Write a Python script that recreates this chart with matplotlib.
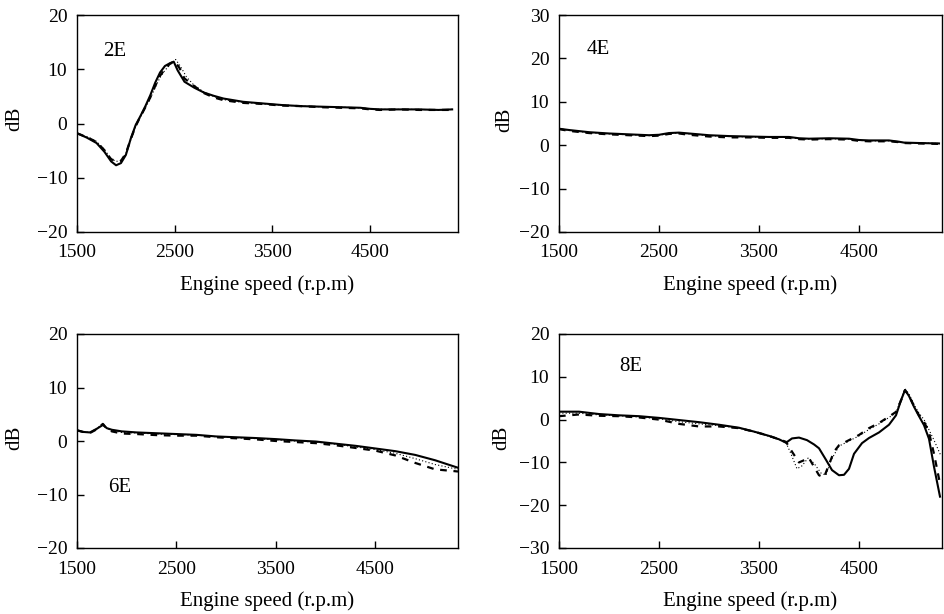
import matplotlib
matplotlib.use("Agg")
import matplotlib.pyplot as plt

plt.rcParams['font.family'] = ['Liberation Serif', 'DejaVu Serif']
plt.rcParams['axes.unicode_minus'] = True

# ---------------- data ----------------
# 2E
x2_solid = [1500, 1600, 1700, 1780, 1850, 1900, 1950, 2000, 2050, 2100, 2150, 2200, 2250, 2300, 2350, 2400,
            2450, 2490, 2530, 2600, 2700, 2800, 2900, 3000, 3200, 3400, 3600, 3800, 4000, 4200, 4400, 4500,
            4600, 4800, 5000, 5200, 5340]
y2_solid = [-1.8, -2.6, -3.6, -5.2, -7.0, -7.7, -7.3, -5.8, -2.8, -0.3, 1.4, 3.2, 5.2, 7.5, 9.4, 10.6,
            11.1, 11.4, 9.8, 7.7, 6.6, 5.7, 5.1, 4.6, 4.0, 3.7, 3.4, 3.2, 3.1, 3.0, 2.9, 2.7,
            2.6, 2.6, 2.6, 2.5, 2.6]
x2_dash = [1500, 1600, 1700, 1780, 1850, 1900, 1950, 2000, 2050, 2100, 2150, 2200, 2250, 2300, 2350, 2400,
           2450, 2500, 2550, 2600, 2700, 2800, 2900, 3000, 3200, 3400, 3600, 3800, 4000, 4200, 4400, 4500,
           4600, 4800, 5000, 5200, 5340]
y2_dash = [-1.8, -2.5, -3.4, -4.9, -6.6, -6.9, -6.9, -5.5, -2.9, -0.5, 1.3, 3.0, 4.8, 6.9, 8.8, 10.0,
           11.0, 11.5, 10.2, 8.3, 6.9, 5.6, 4.8, 4.3, 3.8, 3.6, 3.3, 3.2, 3.0, 2.9, 2.8, 2.6,
           2.5, 2.6, 2.5, 2.5, 2.5]
x2_dot = [1500, 1600, 1700, 1780, 1850, 1900, 1950, 2000, 2050, 2100, 2150, 2200, 2250, 2300, 2350, 2400,
          2450, 2510, 2560, 2620, 2700, 2800, 2900, 3000, 3200, 3400, 3600, 3800, 4000, 4200, 4400, 4500,
          4600, 4800, 5000, 5200, 5340]
y2_dot = [-1.8, -2.4, -3.3, -4.8, -6.5, -7.0, -6.8, -5.6, -3.0, -0.6, 1.2, 2.9, 4.6, 6.6, 8.5, 9.8,
          10.8, 11.8, 10.5, 8.6, 7.0, 5.8, 5.0, 4.4, 3.9, 3.6, 3.4, 3.2, 3.1, 3.0, 2.9, 2.7,
          2.6, 2.6, 2.6, 2.5, 2.6]

# 4E
x4 = [1500, 1600, 1800, 2000, 2200, 2400, 2500, 2600, 2700, 2800, 3000, 3200, 3400, 3600, 3800, 3900,
      4000, 4200, 4400, 4500, 4600, 4800, 4900, 4950, 5100, 5300]
y4_solid = [3.8, 3.5, 3.0, 2.7, 2.5, 2.3, 2.4, 2.8, 2.9, 2.7, 2.3, 2.1, 2.0, 1.9, 1.9, 1.6,
            1.5, 1.6, 1.5, 1.2, 1.1, 1.1, 0.8, 0.6, 0.5, 0.4]
y4_dash = [3.7, 3.3, 2.8, 2.5, 2.3, 2.1, 2.2, 2.6, 2.7, 2.4, 2.0, 1.8, 1.8, 1.7, 1.7, 1.4,
           1.3, 1.4, 1.3, 1.0, 0.9, 0.9, 0.7, 0.5, 0.4, 0.3]
y4_dot = [3.8, 3.4, 2.9, 2.6, 2.4, 2.2, 2.3, 2.7, 2.8, 2.6, 2.2, 2.0, 1.9, 1.8, 1.8, 1.5,
          1.4, 1.5, 1.4, 1.1, 1.0, 1.0, 0.7, 0.6, 0.5, 0.4]

# 6E
x6 = [1500, 1560, 1630, 1700, 1760, 1800, 1850, 1950, 2100, 2300, 2500, 2700, 2900, 3100, 3300, 3500,
      3700, 3900, 4100, 4300, 4500, 4700, 4900, 5100, 5330]
y6_solid = [2.0, 1.7, 1.6, 2.3, 3.0, 2.4, 2.1, 1.8, 1.6, 1.45, 1.3, 1.15, 0.85, 0.7, 0.55, 0.35,
            0.1, -0.1, -0.5, -0.9, -1.4, -1.9, -2.6, -3.6, -5.0]
y6_dash = [2.0, 1.7, 1.5, 2.2, 3.2, 2.3, 1.8, 1.4, 1.3, 1.1, 1.0, 1.0, 0.7, 0.5, 0.3, 0.0,
           -0.2, -0.4, -0.8, -1.3, -1.8, -2.7, -4.1, -5.3, -5.7]
y6_dot = [2.0, 1.7, 1.6, 2.3, 3.3, 2.4, 2.0, 1.6, 1.5, 1.3, 1.2, 1.1, 0.8, 0.6, 0.45, 0.2,
          0.0, -0.2, -0.6, -1.1, -1.6, -2.3, -3.3, -4.4, -5.3]

# 8E
x8_solid = [1500, 1700, 1900, 2100, 2300, 2500, 2700, 2900, 3100, 3300, 3450, 3600, 3700, 3770, 3830,
            3900, 3980, 4050, 4100, 4170, 4230, 4300, 4350, 4400, 4450, 4530, 4600, 4700, 4800, 4870,
            4920, 4960, 5000, 5050, 5100, 5150, 5200, 5250, 5310]
y8_solid = [1.85, 1.85, 1.3, 1.0, 0.8, 0.4, -0.1, -0.6, -1.2, -1.9, -2.8, -3.8, -4.6, -5.4, -4.4,
            -4.2, -4.8, -5.8, -6.7, -9.4, -11.8, -13.0, -12.9, -11.5, -8.0, -5.5, -4.3, -3.0, -1.2, 1.0,
            4.5, 6.9, 5.5, 3.0, 0.8, -1.3, -4.5, -11.0, -18.0]
x8_dash = [1500, 1700, 1900, 2100, 2300, 2500, 2700, 2900, 3100, 3300, 3450, 3600, 3700, 3770, 3830,
           3900, 3950, 4000, 4050, 4100, 4150, 4200, 4250, 4300, 4400, 4500, 4600, 4700, 4800, 4870,
           4930, 4960, 5000, 5050, 5100, 5150, 5200, 5250, 5310]
y8_dash = [0.8, 1.2, 0.9, 0.8, 0.5, 0.0, -1.0, -1.6, -1.6, -2.0, -2.8, -3.8, -4.6, -5.2, -7.5,
           -10.0, -9.5, -9.0, -11.0, -13.0, -13.5, -10.5, -7.5, -6.0, -4.8, -3.6, -2.0, -0.8, 0.7, 1.8,
           5.0, 6.9, 5.6, 3.2, 1.0, -0.5, -3.0, -8.0, -15.0]
x8_dot = [1500, 1700, 1900, 2100, 2300, 2500, 2700, 2900, 3100, 3300, 3450, 3600, 3700, 3770, 3820,
          3880, 3930, 3990, 4050, 4120, 4170, 4220, 4300, 4400, 4500, 4600, 4700, 4800, 4870,
          4920, 4960, 5000, 5050, 5100, 5150, 5200, 5250, 5320]
y8_dot = [1.5, 1.5, 1.1, 0.9, 0.6, 0.2, -0.5, -1.0, -1.4, -2.0, -2.9, -3.9, -4.7, -5.4, -8.0,
          -11.5, -10.8, -9.0, -10.2, -12.5, -13.0, -9.5, -6.2, -5.0, -3.8, -2.3, -1.0, 0.5, 1.6,
          4.8, 7.2, 6.0, 3.5, 1.5, 0.0, -2.4, -4.8, -8.5]

panels = [
    dict(label="2E", lx=0.068, ly=0.83, xlim=(1500, 5400), ylim=(-20, 20), yticks=[-20, -10, 0, 10, 20],
         solid=(x2_solid, y2_solid), dash=(x2_dash, y2_dash), dot=(x2_dot, y2_dot)),
    dict(label="4E", lx=0.073, ly=0.84, xlim=(1500, 5330), ylim=(-20, 30), yticks=[-20, -10, 0, 10, 20, 30],
         solid=(x4, y4_solid), dash=(x4, y4_dash), dot=(x4, y4_dot)),
    dict(label="6E", lx=0.081, ly=0.285, xlim=(1500, 5330), ylim=(-20, 20), yticks=[-20, -10, 0, 10, 20],
         solid=(x6, y6_solid), dash=(x6, y6_dash), dot=(x6, y6_dot)),
    dict(label="8E", lx=0.157, ly=0.85, xlim=(1500, 5330), ylim=(-30, 20), yticks=[-30, -20, -10, 0, 10, 20],
         solid=(x8_solid, y8_solid), dash=(x8_dash, y8_dash), dot=(x8_dot, y8_dot)),
]
xticks = [1500, 2500, 3500, 4500]

fig = plt.figure(figsize=(9.44, 6.14), dpi=100)
W, H = 944, 614
boxes = [(77, 15, 458, 232), (559, 15, 942, 232), (77, 334, 458, 548), (559, 334, 942, 548)]
db_pos = [(14.5, 119), (504.5, 120), (14.5, 438), (501.5, 438)]

for p, (l, t, r, b), (dx, dy) in zip(panels, boxes, db_pos):
    ax = fig.add_axes([l / W, 1 - b / H, (r - l) / W, (b - t) / H])
    ax.plot(*p["dot"], color="black", lw=0.8, ls=(0, (1, 2)))
    ax.plot(*p["dash"], color="black", lw=1.6, ls=(0, (3, 3)))
    ax.plot(*p["solid"], color="black", lw=1.5)
    ax.set_xlim(*p["xlim"])
    ax.set_ylim(*p["ylim"])
    ax.set_xticks(xticks)
    ax.set_yticks(p["yticks"])
    ax.tick_params(direction="in", length=5, width=1.0, labelsize=14, top=False, right=False)
    ax.tick_params(axis="y", pad=7)
    ax.tick_params(axis="x", pad=9)
    for s in ax.spines.values():
        s.set_linewidth(1.0)
    ax.set_xlabel("Engine speed (r.p.m)", fontsize=15, labelpad=10)
    fig.text(dx / W, 1 - dy / H, "dB", rotation=90, ha="center", va="center", fontsize=15)
    ax.text(p["lx"], p["ly"], p["label"], transform=ax.transAxes, fontsize=15, va="center", ha="left")

fig.savefig("out.png", dpi=100)
